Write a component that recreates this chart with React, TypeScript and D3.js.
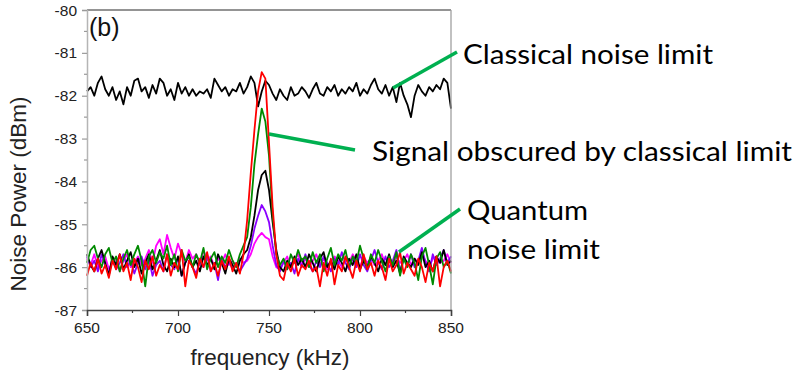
import { useEffect, useRef } from 'react';
import * as d3 from 'd3';

// frequency grid (kHz)
const freqs = [
    650, 652, 654, 656, 658, 660, 662, 664, 666, 668,
    670, 672, 674, 676, 678, 680, 682, 684, 686, 688,
    690, 692, 694, 696, 698, 700, 702, 704, 706, 708,
    710, 712, 714, 716, 718, 720, 722, 724, 726, 728,
    730, 732, 734, 736, 738, 740, 742, 744, 746, 748,
    750, 752, 754, 756, 758, 760, 762, 764, 766, 768,
    770, 772, 774, 776, 778, 780, 782, 784, 786, 788,
    790, 792, 794, 796, 798, 800, 802, 804, 806, 808,
    810, 812, 814, 816, 818, 820, 822, 824, 826, 828,
    830, 832, 834, 836, 838, 840, 842, 844, 846, 848,
    850,
];

// classical noise floor (dBm)
const classical = [
    -81.9, -81.8, -82.0, -81.7, -81.55, -81.85, -82.0, -81.8, -82.1, -81.9,
    -82.2, -81.8, -82.0, -81.65, -81.6, -81.9, -81.8, -82.05, -81.75, -81.95,
    -81.6, -81.7, -82.0, -81.85, -82.1, -81.7, -81.95, -81.8, -82.0, -81.85,
    -82.0, -81.9, -81.95, -81.85, -82.05, -81.6, -81.75, -81.9, -81.8, -82.0,
    -81.85, -81.9, -81.7, -81.95, -81.8, -81.55, -81.7, -82.25, -81.9, -81.65,
    -81.75, -81.95, -82.1, -81.85, -82.0, -82.1, -81.8, -82.0, -81.95, -81.8,
    -81.9, -82.05, -81.85, -81.7, -81.95, -82.0, -81.8, -81.9, -81.75, -82.0,
    -81.85, -81.95, -81.8, -81.9, -81.7, -82.0, -81.85, -81.95, -81.75, -81.6,
    -81.85, -81.95, -81.75, -82.0, -81.8, -82.15, -81.7, -82.0, -82.2, -82.5,
    -82.0, -81.75, -81.9, -82.0, -81.8, -81.9, -81.75, -81.85, -81.6, -81.7,
    -82.3,
];

const red = [
    -86.2, -85.9, -86.1, -85.8, -86.15, -85.95, -86.25, -85.85, -86.05, -85.7,
    -86.1, -85.9, -86.3, -85.8, -86.0, -86.35, -85.85, -86.05, -85.75, -86.2,
    -85.95, -86.1, -85.7, -86.2, -85.9, -86.05, -85.6, -86.45, -85.85, -86.0,
    -86.25, -85.8, -86.0, -85.65, -86.1, -85.9, -86.2, -85.85, -86.05, -85.75,
    -86.1, -85.9, -86.15, -85.7, -84.9, -83.8, -82.8, -81.9, -81.45, -81.6,
    -83.1, -84.6, -85.7, -86.2, -86.3, -85.9, -86.1, -85.8, -86.2, -85.95,
    -86.05, -85.85, -86.1, -86.0, -86.45, -85.9, -86.2, -85.8, -86.4, -85.95,
    -86.1, -85.75, -86.0, -86.25, -85.85, -86.1, -85.7, -86.05, -85.9, -86.2,
    -85.85, -86.0, -86.3, -85.8, -86.1, -85.95, -85.65, -86.15, -85.9, -86.05,
    -86.2, -85.8, -86.0, -86.35, -85.9, -86.1, -85.75, -86.45, -86.0, -85.85,
    -86.1,
];

const green = [
    -85.9, -85.6, -85.5, -85.8, -86.0, -85.7, -85.55, -85.9, -85.75, -86.1,
    -85.8, -85.6, -85.95, -85.7, -85.5, -85.85, -86.45, -85.75, -85.6, -85.9,
    -85.65, -85.8, -85.5, -85.95, -85.7, -86.1, -85.6, -85.85, -85.75, -86.0,
    -85.7, -85.9, -85.55, -86.05, -85.8, -85.65, -86.0, -85.75, -85.9, -85.6,
    -85.85, -86.0, -85.7, -85.5, -85.3, -84.6, -83.6, -82.9, -82.3, -82.6,
    -83.4, -84.8, -85.7, -85.95, -85.8, -86.05, -85.7, -85.9, -85.6, -85.85,
    -85.75, -86.0, -85.65, -85.9, -85.7, -86.1, -85.8, -85.55, -85.95, -85.7,
    -85.85, -85.6, -86.0, -85.75, -85.9, -85.5, -85.8, -86.05, -85.7, -85.9,
    -85.6, -85.85, -86.1, -85.75, -85.95, -85.65, -86.2, -85.8, -86.0, -85.7,
    -85.9, -86.3, -85.75, -85.55, -85.95, -86.4, -85.8, -85.65, -86.0, -85.85,
    -86.15,
];

const black = [
    -85.7, -85.95, -86.1, -85.8, -85.6, -85.9, -86.2, -85.75, -85.95, -85.7,
    -86.05, -85.85, -85.65, -86.0, -85.8, -86.15, -85.9, -85.7, -86.05, -85.85,
    -85.6, -85.95, -86.1, -85.8, -86.0, -85.75, -86.2, -85.9, -85.7, -86.0,
    -85.85, -86.1, -85.75, -85.95, -85.8, -86.05, -85.7, -85.9, -86.15, -85.8,
    -85.95, -86.15, -85.85, -85.7, -85.6, -85.3, -84.8, -84.2, -83.85, -83.75,
    -84.2, -84.95, -85.6, -86.0, -86.1, -85.85, -86.0, -85.75, -85.95, -85.8,
    -86.0, -85.7, -85.9, -86.1, -85.8, -85.65, -86.0, -85.85, -86.05, -85.75,
    -85.9, -86.1, -85.8, -85.95, -85.7, -86.05, -85.85, -86.0, -85.75, -85.9,
    -86.1, -85.8, -85.95, -85.7, -86.0, -85.85, -86.15, -85.75, -85.9, -86.0,
    -85.8, -85.95, -85.65, -86.0, -85.85, -86.1, -85.75, -85.9, -85.6, -85.95,
    -85.85,
];

const purple = [
    -85.75, -86.0, -85.85, -86.1, -85.7, -85.95, -86.15, -85.8, -86.05, -85.9,
    -85.7, -86.0, -85.85, -86.15, -85.9, -85.75, -86.05, -85.8, -86.2, -85.95,
    -85.85, -86.1, -85.7, -85.95, -86.05, -85.8, -86.2, -85.9, -85.75, -86.0,
    -86.15, -85.85, -86.0, -85.7, -86.1, -85.9, -86.3, -85.8, -86.0, -85.85,
    -86.05, -85.9, -86.1, -85.95, -85.8, -85.5, -85.1, -84.8, -84.55, -84.7,
    -84.95, -85.5, -85.95, -86.1, -85.85, -86.05, -85.9, -86.15, -85.8, -86.0,
    -85.7, -85.95, -86.1, -85.85, -86.0, -85.75, -85.9, -86.1, -85.8, -85.95,
    -85.65, -85.9, -86.05, -85.8, -86.0, -85.7, -85.95, -86.1, -85.85, -85.6,
    -85.9, -86.05, -85.75, -86.0, -85.85, -85.6, -86.1, -85.8, -85.95, -85.7,
    -86.0, -85.85, -85.55, -85.9, -86.1, -85.7, -85.95, -85.8, -85.6, -85.9,
    -85.75,
];

const magenta = [
    -85.8, -85.95, -85.7, -86.0, -85.85, -85.75, -86.05, -85.9, -85.8, -86.1,
    -85.85, -85.7, -86.0, -85.9, -85.75, -85.95, -85.8, -85.6, -85.9, -85.5,
    -85.35, -85.7, -85.25, -85.55, -85.8, -85.45, -85.7, -85.9, -85.6, -85.8,
    -85.7, -85.95, -85.6, -85.85, -85.75, -86.0, -85.8, -85.9, -85.7, -85.95,
    -85.85, -86.0, -85.8, -85.9, -85.85, -85.7, -85.45, -85.3, -85.2, -85.3,
    -85.35, -85.75, -86.0, -86.05, -85.9, -85.75, -86.0, -85.85, -85.7, -85.95,
    -85.8, -86.0, -85.85, -85.7, -85.95, -85.8, -86.05, -85.9, -85.75, -85.85,
    -86.0, -85.8, -85.9, -85.7, -85.85, -86.0, -85.75, -85.9, -85.8, -85.95,
    -85.85, -85.7, -85.95, -85.8, -86.0, -85.75, -85.9, -85.85, -85.7, -85.95,
    -85.8, -85.9, -85.7, -85.85, -86.0, -85.8, -85.75, -85.9, -85.85, -85.7,
    -85.9,
];

const xTicks = [650, 700, 750, 800, 850];
const yTicks = [-80, -81, -82, -83, -84, -85, -86, -87];

const series = [
    { values: classical, color: '#000000' },
    { values: magenta, color: '#ff00ff' },
    { values: purple, color: '#8a00ff' },
    { values: black, color: '#000000' },
    { values: green, color: '#008a00' },
    { values: red, color: '#ff0000' },
];

const notes = [
    { lines: ['Classical noise limit'], x: 463, y: 64, widths: [250], from: [393, 88], to: [457, 52] },
    { lines: ['Signal obscured by classical limit'], x: 372, y: 161, widths: [420], from: [269, 134], to: [355, 150] },
    { lines: ['Quantum', 'noise limit'], x: 467, y: 220, widths: [121, 133], from: [399, 252], to: [460, 209] },
];

const W = 801;
const H = 375;

export default function App() {
    const svgRef = useRef<SVGSVGElement>(null);

    useEffect(() => {
        if (!svgRef.current) return;
        const svg = d3.select(svgRef.current);
        svg.selectAll('*').remove();

        const left = 87, right = 451, top = 10, bottom = 310;
        const x = d3.scaleLinear().domain([650, 850]).range([left, right]);
        const y = d3.scaleLinear().domain([-87, -80]).range([bottom, top]);
        const axisFont = '"Liberation Sans", Arial, sans-serif';

        // traces
        const line = d3.line<number>()
            .x((_, i) => x(freqs[i]))
            .y(d => y(d));

        svg.append('g')
            .selectAll('path')
            .data(series)
            .enter()
            .append('path')
            .attr('d', d => line(d.values))
            .attr('fill', 'none')
            .attr('stroke', d => d.color)
            .attr('stroke-width', 1.8)
            .attr('stroke-linejoin', 'round');

        // frame
        svg.append('line').attr('x1', left).attr('x2', right).attr('y1', top).attr('y2', top)
            .attr('stroke', '#707070').attr('stroke-width', 1.3);
        svg.append('line').attr('x1', right).attr('x2', right).attr('y1', top).attr('y2', bottom)
            .attr('stroke', '#a0a0a0').attr('stroke-width', 1.3);

        // y axis (ticks from d3, labels drawn separately)
        const yAxis = d3.axisLeft(y)
            .tickValues(yTicks)
            .tickSize(5)
            .tickFormat(() => '');
        const gy = svg.append('g').attr('transform', `translate(${left},0)`).call(yAxis);
        gy.select('.domain').attr('stroke', '#b5b5b5').attr('stroke-width', 1.5);
        gy.selectAll('.tick line').attr('stroke', '#9a9a9a').attr('stroke-width', 1.2);
        const yMinor = [-86.5, -85.5, -84.5, -83.5, -82.5, -81.5, -80.5];
        gy.selectAll('.minor')
            .data(yMinor)
            .enter()
            .append('line')
            .attr('class', 'minor')
            .attr('x1', -3).attr('x2', 0)
            .attr('y1', d => y(d)).attr('y2', d => y(d))
            .attr('stroke', '#9a9a9a').attr('stroke-width', 1.2);

        svg.append('g')
            .selectAll('text')
            .data(yTicks)
            .enter()
            .append('text')
            .attr('x', left - 10)
            .attr('y', d => y(d) + 5.5)
            .attr('text-anchor', 'end')
            .attr('font-family', axisFont)
            .attr('font-size', 15.5)
            .attr('fill', '#222')
            .text(d => String(d));

        // x axis
        const xAxis = d3.axisBottom(x)
            .tickValues(xTicks)
            .tickSize(6)
            .tickFormat(() => '');
        const gx = svg.append('g').attr('transform', `translate(0,${bottom})`).call(xAxis);
        gx.select('.domain').attr('stroke', '#404040').attr('stroke-width', 1.5);
        gx.selectAll('.tick line').attr('stroke', '#404040').attr('stroke-width', 1.2);
        const xMinor = [675, 725, 775, 825];
        gx.selectAll('.minor')
            .data(xMinor)
            .enter()
            .append('line')
            .attr('class', 'minor')
            .attr('x1', d => x(d)).attr('x2', d => x(d))
            .attr('y1', 0).attr('y2', 3)
            .attr('stroke', '#404040').attr('stroke-width', 1.2);

        svg.append('g')
            .selectAll('text')
            .data(xTicks)
            .enter()
            .append('text')
            .attr('x', d => x(d))
            .attr('y', 333)
            .attr('text-anchor', 'middle')
            .attr('font-family', axisFont)
            .attr('font-size', 15.5)
            .attr('fill', '#222')
            .text(d => String(d));

        // axis titles
        svg.append('text')
            .attr('x', (left + right) / 2 + 1)
            .attr('y', 365)
            .attr('text-anchor', 'middle')
            .attr('font-family', axisFont)
            .attr('font-size', 22.5)
            .attr('fill', '#222')
            .text('frequency (kHz)');

        svg.append('text')
            .attr('transform', `translate(26,${(top + bottom) / 2 + 34}) rotate(-90)`)
            .attr('text-anchor', 'middle')
            .attr('font-family', axisFont)
            .attr('font-size', 22.5)
            .attr('fill', '#222')
            .text('Noise Power (dBm)');

        // panel label
        svg.append('text')
            .attr('x', 89)
            .attr('y', 36)
            .attr('font-family', axisFont)
            .attr('font-size', 25)
            .attr('fill', '#111')
            .text('(b)');

        // annotations
        const ann = svg.append('g');
        notes.forEach(n => {
            ann.append('line')
                .attr('x1', n.from[0]).attr('y1', n.from[1])
                .attr('x2', n.to[0]).attr('y2', n.to[1])
                .attr('stroke', '#00b050')
                .attr('stroke-width', 3.5);
            n.lines.forEach((t, i) => {
                ann.append('text')
                    .attr('x', n.x)
                    .attr('y', n.y + i * 39)
                    .attr('font-family', 'Lato, "Open Sans", sans-serif')
                    .attr('font-size', 27)
                    .attr('fill', '#000')
                    .attr('textLength', n.widths[i])
                    .attr('lengthAdjust', 'spacingAndGlyphs')
                    .text(t);
            });
        });
    }, []);

    return (
        <svg
            ref={svgRef}
            width={W}
            height={H}
            style={{ position: 'absolute', left: 0, top: 0, background: '#fff' }}
        />
    );
}
